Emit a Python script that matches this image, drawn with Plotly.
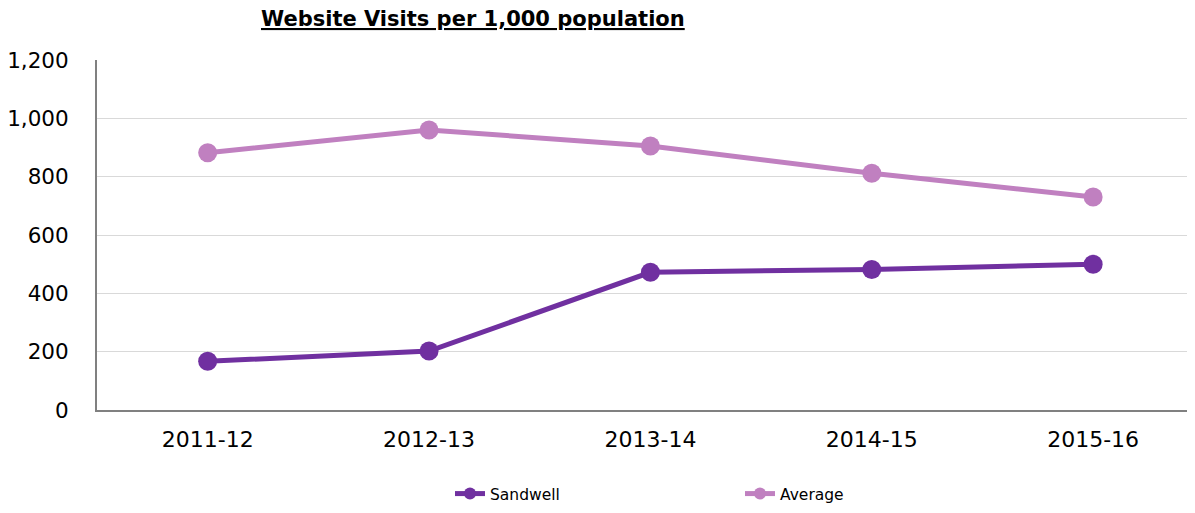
import plotly.graph_objects as go

categories = ["2011-12", "2012-13", "2013-14", "2014-15", "2015-16"]
sandwell = [167, 202, 472, 482, 500]
average = [882, 960, 905, 812, 730]
y_ticks = [0, 200, 400, 600, 800, 1000, 1200]
y_tick_labels = ["0", "200", "400", "600", "800", "1,000", "1,200"]

fig = go.Figure()
fig.add_trace(go.Scatter(
    x=list(range(len(categories))), y=sandwell, name="Sandwell", mode="lines+markers",
    line=dict(color="#7030A0", width=5), marker=dict(color="#7030A0", size=19),
))
fig.add_trace(go.Scatter(
    x=list(range(len(categories))), y=average, name="Average", mode="lines+markers",
    line=dict(color="#C080C0", width=5), marker=dict(color="#C080C0", size=19),
))

font = "DejaVu Sans, Verdana, sans-serif"
L, T = 89, 52
W, H = 1179, 497
PW = W - L
fig.update_layout(
    width=W, height=H,
    margin=dict(l=L, r=0, t=T, b=H - 402, autoexpand=False),
    paper_bgcolor="white", plot_bgcolor="white",
    font=dict(family=font, color="#000000", size=22),
    showlegend=True,
    legend=dict(orientation="h", x=(442 - L) / PW, xanchor="left",
                yref="container", y=1 - 486 / H, yanchor="middle",
                entrywidth=245, entrywidthmode="pixels",
                font=dict(size=15.5, family=font, color="#000000"), itemsizing="constant"),
    annotations=[dict(text="<b><u>Website Visits per 1,000 population</u></b>",
                      xref="paper", yref="paper", x=(465 - L) / PW, y=1,
                      yshift=41, yanchor="middle", xanchor="center", showarrow=False,
                      font=dict(size=21, family=font, color="#000000"))],
)
fig.update_xaxes(
    range=[-0.5, 4.424], tickmode="array", tickvals=list(range(len(categories))), ticktext=categories,
    showgrid=False, showline=True, linecolor="#808080", linewidth=2, ticks="",
    tickfont=dict(size=22), ticklabelstandoff=9, zeroline=False, automargin=False,
)
fig.update_yaxes(
    range=[0, 1200], tickmode="array", tickvals=y_ticks, ticktext=y_tick_labels,
    showgrid=True, gridcolor="#d9d9d9", gridwidth=1, showline=True, linecolor="#808080", linewidth=2,
    ticks="", tickfont=dict(size=21.5), ticklabelstandoff=22, zeroline=False, automargin=False,
)
fig.write_html("out.html")
